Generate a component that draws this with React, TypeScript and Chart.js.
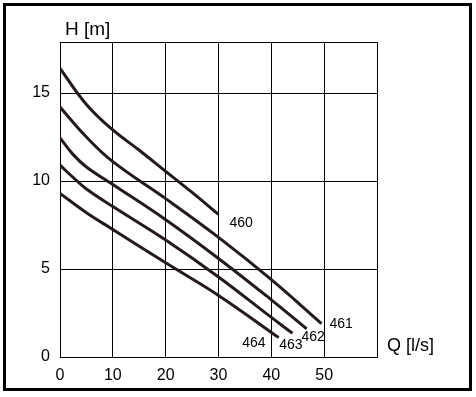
import React, { useEffect, useRef } from 'react';
import { Chart, registerables } from 'chart.js';
Chart.register(...registerables);

const seriesNames = ['460', '461', '462', '463', '464'];
const q460 = [0, 5, 10, 15, 20, 25, 30];
const h460 = [16.4, 14.35, 12.9, 11.75, 10.55, 9.35, 8.1];
const q461 = [0, 5, 10, 20, 30, 40, 49.5];
const h461 = [14.2, 12.5, 11.1, 9.0, 6.8, 4.4, 1.9];
const q462 = [0, 2.5, 5, 10, 20, 30, 40, 46.7];
const h462 = [12.45, 11.5, 10.8, 9.8, 7.8, 5.6, 3.25, 1.6];
const q463 = [0, 2.5, 5, 10, 20, 30, 40, 44];
const h463 = [10.9, 10.2, 9.55, 8.55, 6.65, 4.55, 2.25, 1.35];
const q464 = [0, 5, 10, 20, 30, 41.4];
const h464 = [9.3, 8.2, 7.25, 5.35, 3.5, 1.1];

const labelQ = [34.3, 53.2, 47.9, 43.7, 36.7];
const labelH = [7.6, 1.89, 1.14, 0.69, 0.8];

const xTicks = [0, 10, 20, 30, 40, 50, 60];
const yTicks = [0, 5, 10, 15, 17.9];
const xTitle = 'Q [l/s]';
const yTitle = 'H [m]';

const FONT = '"Liberation Sans", Arial, sans-serif';
const LINE = '#241a1a';

const seriesQ = [q460, q461, q462, q463, q464];
const seriesH = [h460, h461, h462, h463, h464];

export default function App() {
  const ref = useRef<HTMLCanvasElement | null>(null);
  useEffect(() => {
    if (!ref.current) return;
    const deco = {
      id: 'deco',
      beforeDraw(chart: any) {
        const ctx = chart.ctx;
        ctx.save();
        ctx.fillStyle = '#fff';
        ctx.fillRect(0, 0, chart.width, chart.height);
        ctx.strokeStyle = '#000';
        ctx.lineWidth = 3;
        ctx.strokeRect(4.5, 4.5, 466, 385);
        ctx.restore();
      },
      afterDatasetsDraw(chart: any) {
        const ctx = chart.ctx;
        const xs = chart.scales.x;
        const ys = chart.scales.y;
        const area = chart.chartArea;
        ctx.save();
        ctx.fillStyle = '#000';
        ctx.font = '14px ' + FONT;
        ctx.textAlign = 'center';
        ctx.textBaseline = 'middle';
        seriesNames.forEach((n, i) => {
          ctx.fillText(n, xs.getPixelForValue(labelQ[i]), ys.getPixelForValue(labelH[i]));
        });
        ctx.textAlign = 'left';
        ctx.textBaseline = 'alphabetic';
        ctx.font = '19px ' + FONT;
        ctx.fillText(yTitle, area.left + 5, area.top - 7);
        ctx.font = '18px ' + FONT;
        ctx.fillText(xTitle, area.right + 10, area.bottom - 6);
        ctx.restore();
      },
    };
    const chart = new Chart(ref.current, {
      type: 'line',
      data: {
        datasets: seriesNames.map((n, i) => ({
          label: n,
          data: seriesQ[i].map((q, j) => ({ x: q, y: seriesH[i][j] })),
          borderColor: LINE,
          borderWidth: 3,
          pointRadius: 0,
          fill: false,
          tension: 0.4,
          borderCapStyle: 'butt' as const,
        })),
      },
      options: {
        animation: false,
        responsive: false,
        devicePixelRatio: 1,
        layout: { padding: { left: 0, top: 42, right: 99, bottom: 0 } },
        plugins: { legend: { display: false }, tooltip: { enabled: false } },
        scales: {
          x: {
            type: 'linear',
            min: 0,
            max: 60,
            afterFit: (s: any) => { s.height = 40; },
            afterBuildTicks: (s: any) => { s.ticks = xTicks.map((v) => ({ value: v })); },
            grid: { color: '#000', lineWidth: 1, drawTicks: false },
            border: { display: true, color: '#000', width: 1 },
            ticks: {
              padding: 9,
              color: '#000',
              font: { family: FONT, size: 16 },
              maxRotation: 0,
              callback: (v: any) => (v === 60 ? '' : String(v)),
            },
          },
          y: {
            type: 'linear',
            min: 0,
            max: 17.9,
            afterFit: (s: any) => { s.width = 60; },
            afterBuildTicks: (s: any) => { s.ticks = yTicks.map((v) => ({ value: v })); },
            grid: { color: '#000', lineWidth: 1, drawTicks: false },
            border: { display: true, color: '#000', width: 1 },
            ticks: {
              padding: 10,
              color: '#000',
              font: { family: FONT, size: 16 },
              callback: (v: any) => (v === 17.9 ? '' : String(v)),
            },
          },
        },
      },
      plugins: [deco],
    });
    return () => chart.destroy();
  }, []);
  return (
    <div style={{ position: 'absolute', left: 0, top: 0, width: 476, height: 397 }}>
      <canvas ref={ref} width={476} height={397} style={{ display: 'block', width: 476, height: 397 }} />
    </div>
  );
}
